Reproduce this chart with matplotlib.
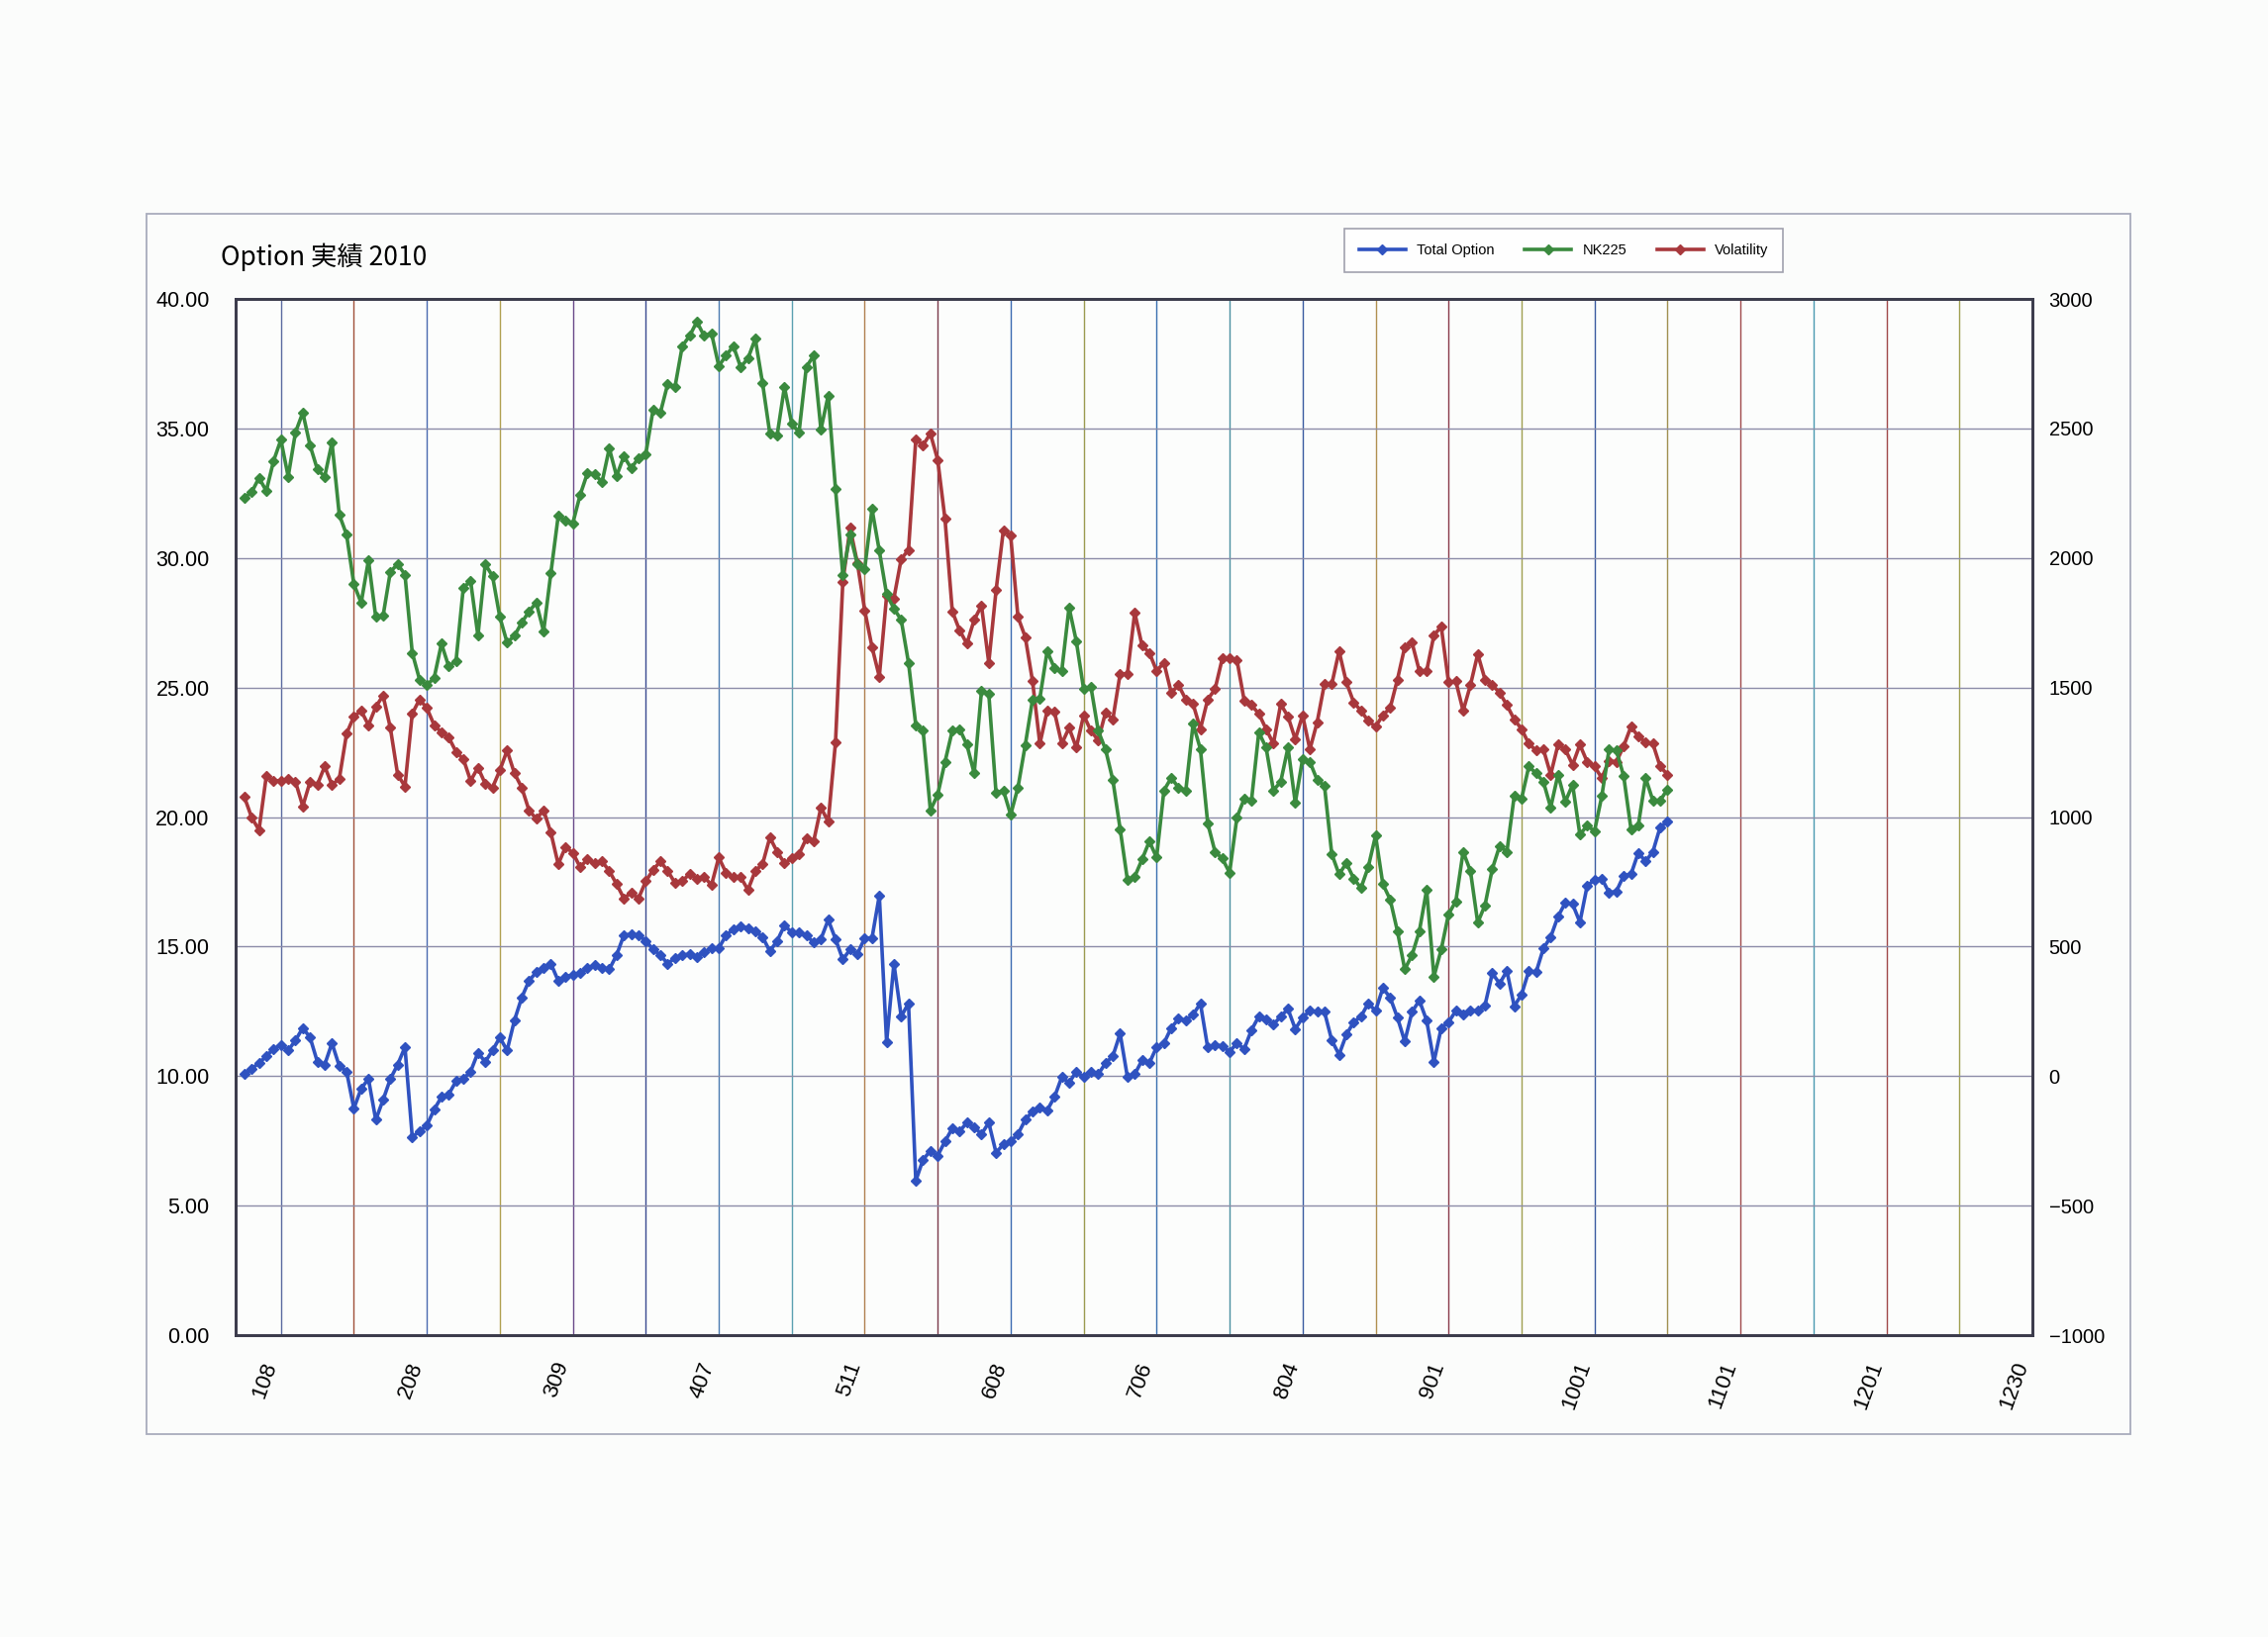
import matplotlib
matplotlib.use('Agg')
from matplotlib import pyplot as plt
from matplotlib.patches import Rectangle
import matplotlib.transforms as mtransforms
import numpy as np

plt.rcParams['font.family'] = ['Noto Sans CJK JP', 'DejaVu Sans']

# daily values (left axis)
total_option = [
    10.07, 10.29, 10.50, 10.77, 11.05, 11.21, 10.99, 11.38, 11.86, 11.49,
    10.55, 10.44, 11.27, 10.39, 10.18, 8.75, 9.52, 9.89, 8.31, 9.08,
    9.89, 10.44, 11.12, 7.65, 7.87, 8.09, 8.71, 9.19, 9.30, 9.80,
    9.89, 10.18, 10.90, 10.55, 10.99, 11.49, 10.99, 12.15, 13.03, 13.68,
    14.01, 14.19, 14.34, 13.68, 13.84, 13.90, 13.97, 14.17, 14.28, 14.19,
    14.12, 14.67, 15.44, 15.48, 15.44, 15.22, 14.89, 14.67, 14.34, 14.56,
    14.67, 14.71, 14.61, 14.78, 14.93, 14.93, 15.44, 15.66, 15.77, 15.72,
    15.59, 15.37, 14.82, 15.22, 15.81, 15.55, 15.55, 15.44, 15.15, 15.29,
    16.03, 15.29, 14.50, 14.89, 14.72, 15.33, 15.33, 16.97, 11.32, 14.34,
    12.30, 12.81, 5.96, 6.78, 7.11, 6.93, 7.48, 7.98, 7.87, 8.20,
    8.03, 7.76, 8.20, 7.04, 7.37, 7.48, 7.76, 8.31, 8.64, 8.79,
    8.68, 9.19, 9.96, 9.74, 10.18, 9.96, 10.18, 10.07, 10.50, 10.77,
    11.64, 9.96, 10.07, 10.61, 10.50, 11.12, 11.27, 11.86, 12.21, 12.15,
    12.37, 12.81, 11.10, 11.21, 11.16, 10.94, 11.27, 11.05, 11.78, 12.30,
    12.19, 11.99, 12.30, 12.59, 11.82, 12.26, 12.52, 12.48, 12.48, 11.38,
    10.83, 11.60, 12.08, 12.30, 12.81, 12.52, 13.40, 13.03, 12.26, 11.34,
    12.48, 12.92, 12.15, 10.55, 11.86, 12.08, 12.52, 12.37, 12.52, 12.52,
    12.74, 13.97, 13.57, 14.06, 12.70, 13.14, 14.06, 14.01, 14.93, 15.37,
    16.16, 16.69, 16.64, 15.94, 17.35, 17.57, 17.63, 17.08, 17.13, 17.74,
    17.79, 18.62, 18.29, 18.66, 19.61, 19.82,
]

# right axis
nk225 = [
    2233, 2254, 2309, 2259, 2375, 2456, 2314, 2485, 2561, 2434,
    2342, 2314, 2445, 2167, 2090, 1899, 1827, 1991, 1772, 1776,
    1947, 1976, 1936, 1634, 1531, 1509, 1537, 1669, 1581, 1603,
    1886, 1910, 1700, 1976, 1930, 1772, 1673, 1700, 1750, 1794,
    1827, 1717, 1943, 2162, 2145, 2134, 2243, 2327, 2325, 2292,
    2423, 2316, 2393, 2346, 2386, 2401, 2572, 2561, 2671, 2660,
    2818, 2857, 2912, 2857, 2868, 2741, 2781, 2818, 2737, 2770,
    2846, 2675, 2480, 2474, 2660, 2518, 2485, 2737, 2781, 2496,
    2627, 2265, 1936, 2090, 1976, 1958, 2189, 2028, 1860, 1805,
    1761, 1596, 1355, 1333, 1026, 1086, 1213, 1333, 1340, 1279,
    1169, 1487, 1476, 1092, 1103, 1009, 1114, 1278, 1454, 1458,
    1640, 1575, 1564, 1809, 1678, 1493, 1502, 1333, 1261, 1143,
    954, 757, 770, 836, 906, 844, 1103, 1151, 1114, 1103,
    1360, 1262, 976, 866, 840, 785, 998, 1070, 1064, 1327,
    1268, 1103, 1136, 1268, 1055, 1224, 1213, 1143, 1121, 857,
    779, 822, 763, 726, 807, 928, 741, 682, 559, 412,
    467, 559, 719, 384, 489, 625, 675, 866, 792, 592,
    660, 800, 888, 866, 1081, 1070, 1195, 1169, 1136, 1037,
    1164, 1059, 1125, 932, 967, 945, 1081, 1261, 1257, 1158,
    954, 967, 1151, 1064, 1064, 1107,
]

volatility = [
    20.77, 19.98, 19.50, 21.58, 21.40, 21.40, 21.47, 21.36, 20.42, 21.36,
    21.25, 21.95, 21.25, 21.47, 23.22, 23.88, 24.10, 23.55, 24.25, 24.69,
    23.44, 21.64, 21.18, 23.99, 24.54, 24.21, 23.55, 23.27, 23.07, 22.52,
    22.24, 21.40, 21.91, 21.29, 21.14, 21.80, 22.57, 21.69, 21.14, 20.26,
    19.93, 20.26, 19.39, 18.18, 18.84, 18.62, 18.07, 18.36, 18.22, 18.29,
    17.92, 17.41, 16.86, 17.08, 16.86, 17.52, 17.96, 18.29, 17.92, 17.46,
    17.52, 17.81, 17.63, 17.70, 17.37, 18.44, 17.85, 17.68, 17.68, 17.19,
    17.92, 18.18, 19.21, 18.66, 18.22, 18.40, 18.57, 19.17, 19.06, 20.37,
    19.82, 22.89, 29.08, 31.16, 29.80, 27.98, 26.56, 25.42, 28.53, 28.44,
    29.96, 30.31, 34.58, 34.36, 34.80, 33.79, 31.51, 27.94, 27.21, 26.69,
    27.61, 28.16, 25.96, 28.75, 31.07, 30.86, 27.72, 26.95, 25.24, 22.83,
    24.10, 24.06, 22.83, 23.44, 22.68, 23.93, 23.33, 22.96, 24.04, 23.77,
    25.53, 25.53, 27.89, 26.62, 26.34, 25.64, 25.96, 24.80, 25.09, 24.54,
    24.36, 23.40, 24.54, 24.93, 26.12, 26.12, 26.07, 24.50, 24.32, 23.99,
    23.40, 22.83, 24.36, 23.88, 23.00, 23.93, 22.61, 23.66, 25.15, 25.13,
    26.40, 25.20, 24.43, 24.10, 23.71, 23.49, 23.93, 24.21, 25.31, 26.56,
    26.73, 25.64, 25.64, 27.02, 27.35, 25.20, 25.24, 24.10, 25.09, 26.29,
    25.31, 25.09, 24.80, 24.32, 23.77, 23.40, 22.83, 22.57, 22.61, 21.64,
    22.79, 22.61, 22.02, 22.79, 22.13, 21.95, 21.51, 22.17, 22.13, 22.74,
    23.49, 23.11, 22.89, 22.83, 21.95, 21.64,
]

date_labels = ['108', '208', '309', '407', '511', '608', '706', '804',
               '901', '1001', '1101', '1201', '1230']

grid_colors = ['#5a6aa0', '#a0503a', '#4a6ab0', '#b0a050', '#6a4a8a',
               '#3a4a90', '#4a7ab0', '#5aa0b0', '#b08050', '#7a3a4a',
               '#3a6ab0', '#9a9a50', '#3a70b0', '#4a90a0', '#3a5aa0',
               '#b09050', '#8a3a4a', '#a0a050', '#3a5aa0', '#a09050',
               '#a04a4a', '#4a9ab0', '#a04a4a', '#a0a050']

blue = '#2f52c0'
green = '#3a8a3e'
red = '#a8383c'
latin = ['Liberation Sans', 'DejaVu Sans']

fig = plt.figure(figsize=(22.91, 16.54), dpi=100)
fig.patch.set_facecolor('#fbfcfb')

# outer chart box
fig.patches.append(Rectangle((0.0646, 0.1239), 0.8747, 0.7455,
                             transform=fig.transFigure, fill=False,
                             edgecolor='#a8acbc', lw=1.3))

ax = fig.add_axes([0.1039, 0.1844, 0.7922, 0.6330])
ax.set_facecolor('#fcfdfc')
ax2 = ax.twinx()

x = np.arange(len(total_option))

for k, c in enumerate(grid_colors):
    ax.axvline(5 + 10 * k, color=c, lw=1.0, zorder=0)
ax.set_yticks(np.arange(0, 41, 5))
ax.set_yticklabels(['%.2f' % v for v in np.arange(0, 41, 5)], fontsize=15.5, family=latin)
ax.yaxis.grid(True, color='#8c8ca8', lw=1.0)
ax.set_axisbelow(True)

l1, = ax.plot(x, total_option, color=blue, lw=2.6, marker='D', markersize=5.5,
              label='Total Option')
l2, = ax2.plot(x, nk225, color=green, lw=2.6, marker='D', markersize=5.5,
               label='NK225')
l3, = ax.plot(x, volatility, color=red, lw=2.6, marker='D', markersize=5.5,
              label='Volatility')

ax.set_ylim(0, 40)
ax2.set_ylim(-1000, 3000)
ax.set_xlim(-1.2, 245)

ax.set_xticks(np.arange(5, 246, 20))
ax.set_xticklabels(date_labels, rotation=70, ha='right', va='center',
                   rotation_mode='anchor', fontsize=16, family=latin)
ax.tick_params(axis='x', length=0, pad=20)
ax.tick_params(axis='y', length=0, pad=19)
shift = mtransforms.ScaledTranslation(-7 / 72, 0, fig.dpi_scale_trans)
for t in ax.get_xticklabels():
    t.set_transform(t.get_transform() + shift)

ax2.set_yticks(np.arange(-1000, 3001, 500))
ax2.set_yticklabels([str(v).replace('-', '\u2212') for v in range(-1000, 3001, 500)],
                    fontsize=14.5, family=latin)
ax2.tick_params(axis='y', length=0, pad=12)

for a in (ax, ax2):
    for s in a.spines.values():
        s.set_color('#3c3c4c')
        s.set_linewidth(2.0)

fig.text(0.0975, 0.8428, 'Option 実績 2010', ha='left', va='center', fontsize=19)

leg = fig.legend(handles=[l1, l2, l3], loc='center', bbox_to_anchor=(0.6896, 0.847),
                 ncol=3, frameon=True, fancybox=False,
                 edgecolor='#8a8a9a', handlelength=3.2, columnspacing=2.1,
                 borderpad=1.0, prop={'family': latin, 'size': 10.5})
leg.get_frame().set_linewidth(1.2)

fig.savefig('out.png', dpi=100, facecolor=fig.get_facecolor())
